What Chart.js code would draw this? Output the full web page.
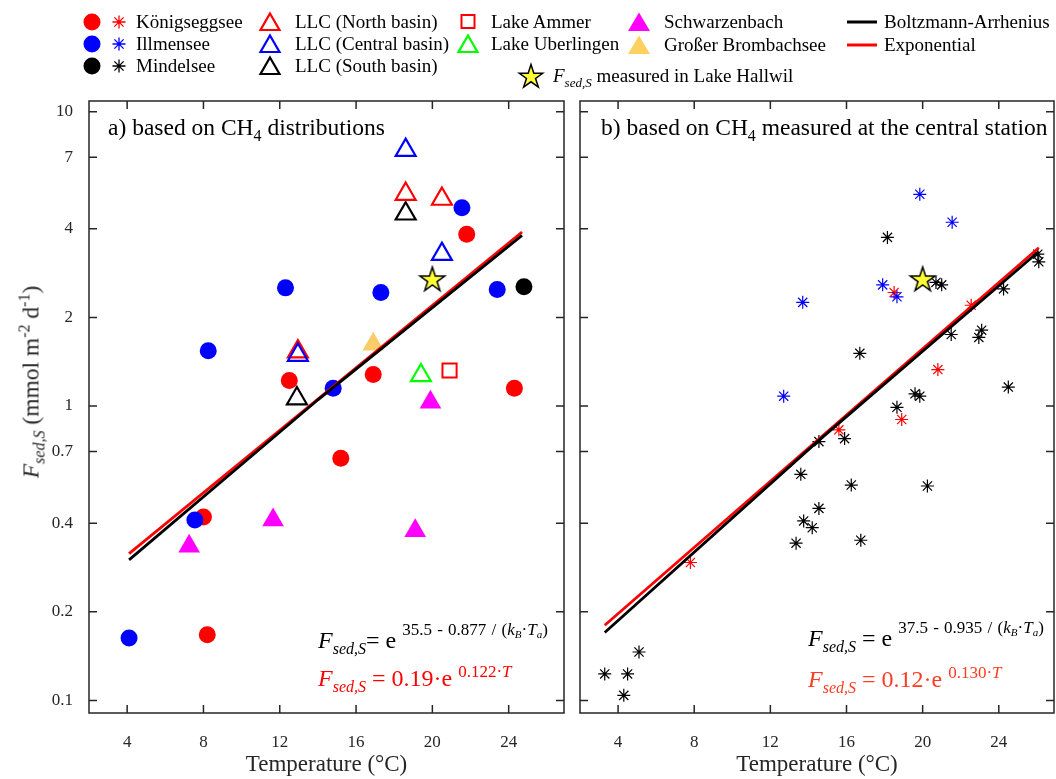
<!DOCTYPE html>
<html>
<head>
<meta charset="utf-8">
<script src="https://cdn.jsdelivr.net/npm/chart.js@4.4.1/dist/chart.umd.min.js"></script>
<style>
  body { margin: 0; background: #fff; width: 1056px; height: 779px; position: relative; overflow: hidden;
         font-family: 'Liberation Serif', 'Times New Roman', serif; color: #000; }
  canvas { position: absolute; top: 0; }
  #chartA { left: 0; }
  #chartB { left: 570px; }
  .t { position: absolute; white-space: nowrap; line-height: 23px; font-size: 23.5px; }
  .eq { position: absolute; white-space: nowrap; line-height: 24px; font-size: 24px; }
  .lg { position: absolute; white-space: nowrap; font-size: 19px; line-height: 24px; height: 24px; }
  .mk { position: absolute; }
  .sb { position: relative; font-size: 16px; top: 6px; }
  .sp { position: relative; font-size: 16px; top: -13px; }
  .eq .sp { font-size: 17px; word-spacing: 1px; }
  .ssb { position: relative; font-size: 11px; top: 3px; }
</style>
</head>
<body>
<canvas id="chartA" width="570" height="779"></canvas>
<canvas id="chartB" width="486" height="779"></canvas>

<!-- legend -->
<svg class="mk" style="left:80px;top:10px" width="24" height="24"><circle cx="12" cy="12" r="8.5" fill="#ff0000"/></svg>
<svg class="mk" style="left:80px;top:32px" width="24" height="24"><circle cx="12" cy="12" r="8.5" fill="#0000ff"/></svg>
<svg class="mk" style="left:80px;top:54px" width="24" height="24"><circle cx="12" cy="12" r="8.5" fill="#000"/></svg>
<svg class="mk" style="left:107px;top:10px" width="24" height="24"><path d="M12 5.5V18.5M5.5 12H18.5M7.4 7.4L16.6 16.6M16.6 7.4L7.4 16.6" stroke="#ff0000" stroke-width="1.3"/></svg>
<svg class="mk" style="left:107px;top:32px" width="24" height="24"><path d="M12 5.5V18.5M5.5 12H18.5M7.4 7.4L16.6 16.6M16.6 7.4L7.4 16.6" stroke="#0000ff" stroke-width="1.3"/></svg>
<svg class="mk" style="left:107px;top:54px" width="24" height="24"><path d="M12 5.5V18.5M5.5 12H18.5M7.4 7.4L16.6 16.6M16.6 7.4L7.4 16.6" stroke="#000" stroke-width="1.3"/></svg>
<div class="lg" style="left:136px;top:10px">Königseggsee</div>
<div class="lg" style="left:136px;top:32px">Illmensee</div>
<div class="lg" style="left:136px;top:54px">Mindelsee</div>

<svg class="mk" style="left:258px;top:10px" width="24" height="24"><polygon points="12,3.5 21.5,20 2.5,20" fill="none" stroke="#ff0000" stroke-width="2.2"/></svg>
<svg class="mk" style="left:258px;top:32px" width="24" height="24"><polygon points="12,3.5 21.5,20 2.5,20" fill="none" stroke="#0000ff" stroke-width="2.2"/></svg>
<svg class="mk" style="left:258px;top:54px" width="24" height="24"><polygon points="12,3.5 21.5,20 2.5,20" fill="none" stroke="#000" stroke-width="2.2"/></svg>
<div class="lg" style="left:295px;top:10px">LLC (North basin)</div>
<div class="lg" style="left:295px;top:32px">LLC (Central basin)</div>
<div class="lg" style="left:295px;top:54px">LLC (South basin)</div>

<svg class="mk" style="left:456px;top:10px" width="24" height="24"><rect x="5.5" y="5" width="13" height="13" fill="none" stroke="#ff0000" stroke-width="2"/></svg>
<svg class="mk" style="left:456px;top:32px" width="24" height="24"><polygon points="12,3.5 21.5,20 2.5,20" fill="none" stroke="#00ff00" stroke-width="2.2"/></svg>
<div class="lg" style="left:491px;top:10px">Lake Ammer</div>
<div class="lg" style="left:491px;top:32px">Lake Uberlingen</div>

<svg class="mk" style="left:627px;top:10px" width="24" height="24"><polygon points="12,2.5 23,21 1,21" fill="#ff00ff"/></svg>
<svg class="mk" style="left:627px;top:33px" width="24" height="24"><polygon points="12,2.5 23,21 1,21" fill="#fcd15f"/></svg>
<div class="lg" style="left:664px;top:10px">Schwarzenbach</div>
<div class="lg" style="left:664px;top:33px">Großer Brombachsee</div>

<svg class="mk" style="left:847px;top:20px" width="30" height="4"><line x1="0" y1="2" x2="30" y2="2" stroke="#000" stroke-width="3"/></svg>
<svg class="mk" style="left:847px;top:43px" width="30" height="4"><line x1="0" y1="2" x2="30" y2="2" stroke="#ff0000" stroke-width="3"/></svg>
<div class="lg" style="left:884px;top:10px">Boltzmann-Arrhenius</div>
<div class="lg" style="left:884px;top:33px">Exponential</div>

<svg class="mk" id="legStar" style="left:517px;top:62px" width="28" height="28"></svg>
<div class="lg" style="left:553px;top:64px"><i>F</i><span class="ssb" style="font-size:13px;top:5px"><i>sed,S</i></span> measured in Lake Hallwil</div>

<!-- panel labels -->
<div class="t" style="left:108px;top:116px">a) based on CH<span class="sb">4</span> distributions</div>
<div class="t" style="left:601px;top:116px">b) based on CH<span class="sb">4</span> measured at the central station</div>

<!-- fitted equations -->
<div class="eq" style="left:318px;top:628px"><i>F</i><span class="sb"><i>sed,S</i></span>= e <span class="sp">35.5 - 0.877 / (<i>k<span class="ssb">B</span></i>·<i>T<span class="ssb">a</span></i>)</span></div>
<div class="eq" style="left:318px;top:666px;color:#ff0000"><i>F</i><span class="sb"><i>sed,S</i></span> = 0.19·e <span class="sp" style="top:-9px">0.122·<i>T</i></span></div>
<div class="eq" style="left:808px;top:626px"><i>F</i><span class="sb"><i>sed,S</i></span> = e <span class="sp">37.5 - 0.935 / (<i>k<span class="ssb">B</span></i>·<i>T<span class="ssb">a</span></i>)</span></div>
<div class="eq" style="left:808px;top:667px;color:#ff3b24"><i>F</i><span class="sb"><i>sed,S</i></span> = 0.12·e <span class="sp" style="top:-9px">0.130·<i>T</i></span></div>

<!-- y axis title -->
<div class="t" style="left:32px;top:382px;transform:translate(-50%,-50%) rotate(-90deg);color:#262626"><i>F</i><span class="sb"><i>sed,S</i></span> (mmol m<span class="sp" style="top:-9px">-2</span> d<span class="sp" style="top:-9px">-1</span>)</div>

<script>
const FONT = 'Liberation Serif';

// axis ticks
const tempTicks = [4, 8, 12, 16, 20, 24];
const fluxTicks = [0.1, 0.2, 0.4, 0.7, 1, 2, 4, 7, 10];

// panel a) based on CH4 distributions  [temperature °C, flux mmol m-2 d-1]
const koenigA = [[8.0, 0.42], [8.2, 0.167], [12.5, 1.22], [15.2, 0.665], [16.9, 1.28], [21.8, 3.83], [24.3, 1.15]];
const illmA = [[4.1, 0.163], [7.55, 0.41], [8.25, 1.54], [12.3, 2.52], [14.8, 1.15], [17.3, 2.43], [21.55, 4.72], [23.4, 2.49]];
const mindA = [[24.8, 2.54]];
const llcNorth = [[12.95, 1.53], [18.6, 5.25], [20.5, 5.05]];
const llcCentral = [[12.95, 1.49], [18.6, 7.4], [20.5, 3.28]];
const llcSouth = [[12.9, 1.06], [18.6, 4.5]];
const ammer = [[20.9, 1.32]];
const ueberlingen = [[19.4, 1.27]];
const schwarzenbach = [[7.25, 0.334], [11.65, 0.41], [19.1, 0.377], [19.9, 1.03]];
const brombach = [[16.9, 1.62]];
const hallwil = [[20, 2.7]];
const arrhA = [[4.1, 0.30], [14, 1.05], [24.7, 3.8]];
const expA = [[4.1, 0.315], [24.7, 3.9]];

// panel b) based on CH4 measured at the central station
const koenigB = [[7.8, 0.294], [15.6, 0.83], [18.5, 2.43], [18.9, 0.9], [20.8, 1.33], [22.55, 2.2]];
const illmB = [[12.7, 1.08], [13.7, 2.25], [17.9, 2.58], [18.65, 2.35], [19.85, 5.24], [21.55, 4.21]];
const mindB = [[3.3, 0.123], [4.3, 0.104], [4.5, 0.123], [5.1, 0.146], [13.35, 0.342], [13.6, 0.586],
  [13.75, 0.407], [14.2, 0.386], [14.55, 0.449], [14.55, 0.757], [15.9, 0.775], [16.25, 0.539],
  [16.75, 0.35], [16.7, 1.51], [18.15, 3.74], [18.65, 0.99], [19.6, 1.1], [19.85, 1.08], [20.25, 0.535],
  [20.7, 2.63], [21.0, 2.58], [21.5, 1.75], [22.95, 1.71], [23.1, 1.81], [24.25, 2.5], [24.5, 1.16],
  [26.05, 3.28], [26.1, 3.09]];
const arrhB = [[3.3, 0.17], [14.5, 0.76], [26.1, 3.35]];
const expB = [[3.3, 0.18], [26.1, 3.45]];

// yellow pentagram marker
function starPath(ctx, cx, cy, R) {
  ctx.beginPath();
  for (let i = 0; i < 10; i++) {
    const r = i % 2 ? R * 0.382 : R;
    const a = -Math.PI / 2 + i * Math.PI / 5;
    ctx.lineTo(cx + r * Math.cos(a), cy + r * Math.sin(a));
  }
  ctx.closePath();
}
const starImg = document.createElement('canvas');
starImg.width = 30; starImg.height = 30;
(() => {
  const c = starImg.getContext('2d');
  starPath(c, 15, 16, 13);
  c.fillStyle = '#ffff33'; c.fill();
  c.lineWidth = 1.5; c.strokeStyle = '#000'; c.stroke();
})();
// same star for the legend
(() => {
  const pts = [];
  for (let i = 0; i < 10; i++) {
    const r = i % 2 ? 12.5 * 0.382 : 12.5;
    const a = -Math.PI / 2 + i * Math.PI / 5;
    pts.push((14 + r * Math.cos(a)).toFixed(2) + ',' + (15 + r * Math.sin(a)).toFixed(2));
  }
  document.getElementById('legStar').innerHTML =
    '<polygon points="' + pts.join(' ') + '" fill="#ffff33" stroke="#000" stroke-width="1.5"/>';
})();

const pts = a => a.map(([x, y]) => ({ x, y }));
const circ = (d, c) => ({ data: pts(d), pointStyle: 'circle', pointRadius: 8.5, backgroundColor: c, borderWidth: 0 });
const tri = (d, c) => ({ data: pts(d), pointStyle: 'triangle', pointRadius: 11.5, backgroundColor: 'rgba(0,0,0,0)', borderColor: c, borderWidth: 2.2 });
const triFill = (d, c) => ({ data: pts(d), pointStyle: 'triangle', pointRadius: 12.5, backgroundColor: c, borderWidth: 0 });
const aster = (d, c) => ({ data: pts(d), pointStyle: 'star', pointRadius: 6.5, borderColor: c, borderWidth: 1.2 });
const fit = (d, c) => ({ data: pts(d), showLine: true, pointRadius: 0, borderColor: c, borderWidth: 2.8, fill: false });
const star = d => ({ data: pts(d), pointStyle: starImg, pointRadius: 13 });

// inward ticks on all four sides plus a box, like the original figure
const frame = {
  id: 'frame',
  afterDraw(chart) {
    const { ctx, chartArea: a, scales: { x, y } } = chart;
    ctx.save();
    ctx.strokeStyle = '#262626';
    ctx.lineWidth = 1.5;
    ctx.beginPath();
    x.ticks.forEach(t => {
      const px = x.getPixelForValue(t.value);
      ctx.moveTo(px, a.bottom); ctx.lineTo(px, a.bottom - 8);
      ctx.moveTo(px, a.top); ctx.lineTo(px, a.top + 8);
    });
    y.ticks.forEach(t => {
      const py = y.getPixelForValue(t.value);
      ctx.moveTo(a.left, py); ctx.lineTo(a.left + 8, py);
      ctx.moveTo(a.right, py); ctx.lineTo(a.right - 8, py);
    });
    ctx.stroke();
    ctx.strokeRect(a.left, a.top, a.right - a.left, a.bottom - a.top);
    ctx.restore();
  }
};

function options(yWidth, showY, padRight) {
  return {
    responsive: false,
    animation: false,
    devicePixelRatio: 1,
    events: [],
    layout: { autoPadding: false, padding: { left: 0, right: padRight, top: 101, bottom: 0 } },
    plugins: { legend: { display: false }, tooltip: { enabled: false } },
    scales: {
      x: {
        type: 'linear', min: 2, max: 26.9,
        afterBuildTicks: s => { s.ticks = tempTicks.map(v => ({ value: v })); },
        afterFit: s => { s.height = 66; },
        grid: { display: false }, border: { display: false },
        ticks: { font: { family: FONT, size: 17 }, color: '#262626', padding: 11, maxRotation: 0, autoSkip: false },
        title: { display: true, text: 'Temperature (°C)', font: { family: FONT, size: 23 }, color: '#262626', padding: 0 }
      },
      y: {
        type: 'logarithmic', min: 0.0906, max: 10.87,
        afterBuildTicks: s => { s.ticks = fluxTicks.map(v => ({ value: v })); },
        afterFit: s => { s.width = yWidth; },
        grid: { display: false }, border: { display: false },
        ticks: { display: showY, font: { family: FONT, size: 17 }, color: '#262626', padding: 8,
                 autoSkip: false, callback: v => String(v) }
      }
    }
  };
}

// first dataset is drawn on top
new Chart(document.getElementById('chartA'), {
  type: 'scatter',
  data: {
    datasets: [
      fit(arrhA, '#000000'),
      fit(expA, '#ff0000'),
      star(hallwil),
      circ(illmA, '#0000ff'),
      circ(koenigA, '#ff0000'),
      circ(mindA, '#000000'),
      tri(llcCentral, '#0000ff'),
      tri(llcNorth, '#ff0000'),
      tri(llcSouth, '#000000'),
      { data: pts(ammer), pointStyle: 'rect', pointRadius: 10, backgroundColor: 'rgba(0,0,0,0)', borderColor: '#ff0000', borderWidth: 2 },
      tri(ueberlingen, '#00ff00'),
      triFill(schwarzenbach, '#ff00ff'),
      triFill(brombach, '#fbcd68')
    ]
  },
  options: options(89, true, 6),
  plugins: [frame]
});

new Chart(document.getElementById('chartB'), {
  type: 'scatter',
  data: {
    datasets: [
      fit(arrhB, '#000000'),
      fit(expB, '#ff0000'),
      star(hallwil),
      aster(mindB, '#000000'),
      aster(illmB, '#0000ff'),
      aster(koenigB, '#ff0000')
    ]
  },
  options: options(10, false, 2),
  plugins: [frame]
});
</script>
</body>
</html>
